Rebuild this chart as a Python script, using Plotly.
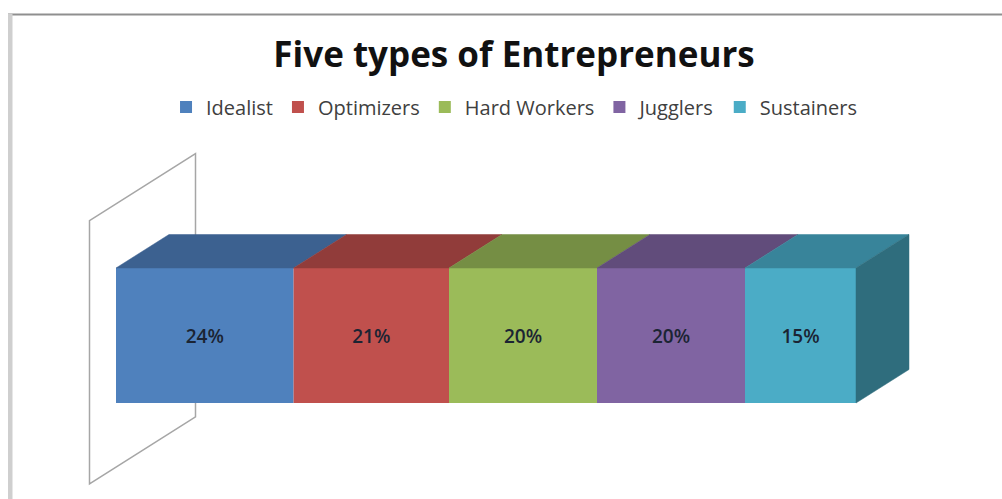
import plotly.graph_objects as go

# Share of each entrepreneur type (percent)
categories = ["Idealist", "Optimizers", "Hard Workers", "Jugglers", "Sustainers"]
shares = [24, 21, 20, 20, 15]
labels = ["24%", "21%", "20%", "20%", "15%"]

front_colors = ["#4F81BD", "#C0504D", "#9BBB59", "#8064A2", "#4BACC6"]
top_colors = ["#3C6190", "#913C3A", "#758E44", "#614C7B", "#38849A"]
side_color = "#2F6D7D"

W, H = 1002, 499

# Oblique projection: depth axis runs up and to the right.
DEPTH_DX = 106 / 7.4     # value units per unit of depth
DEPTH_DY = 67 / 135      # height units per unit of depth
BAR_DEPTH = 0.5          # bar occupies depth 0 .. 0.5 (front plane at 0)
WALL_D0, WALL_D1 = -0.25, 0.75
WALL_H0, WALL_H1 = -0.475, 1.475


def proj(v, h, d):
    return v + d * DEPTH_DX, h + d * DEPTH_DY


def poly(points):
    xs, ys = zip(*[proj(*p) for p in points])
    return list(xs) + [xs[0]], list(ys) + [ys[0]]


def svg_path(points):
    pts = [proj(*p) for p in points]
    return "M" + " L".join(f"{x:.4f},{y:.4f}" for x, y in pts) + " Z"


fig = go.Figure()

starts = []
acc = 0
for s in shares:
    starts.append(acc)
    acc += s
total = acc

# Top faces of the stacked segments
for i, s in enumerate(shares):
    a, b = starts[i], starts[i] + s
    tx, ty = poly([(a, 1, 0), (b, 1, 0), (b, 1, BAR_DEPTH), (a, 1, BAR_DEPTH)])
    fig.add_trace(go.Scatter(x=tx, y=ty, mode="lines", fill="toself",
                             fillcolor=top_colors[i],
                             line=dict(color=top_colors[i], width=0.5),
                             showlegend=False, hoverinfo="skip"))

# Right end face
sx, sy = poly([(total, 0, 0), (total, 1, 0), (total, 1, BAR_DEPTH), (total, 0, BAR_DEPTH)])
fig.add_trace(go.Scatter(x=sx, y=sy, mode="lines", fill="toself",
                         fillcolor=side_color, line=dict(color=side_color, width=0.5),
                         showlegend=False, hoverinfo="skip"))

# Front faces
for i, (c, s) in enumerate(zip(categories, shares)):
    fig.add_trace(go.Bar(
        name=c, orientation="h", y=[0.5], x=[s], base=[starts[i]], width=[1],
        marker=dict(color=front_colors[i], line=dict(width=0)),
        text=[labels[i]], textposition="inside", insidetextanchor="middle",
        textfont=dict(family="Open Sans", size=19, weight=600, color="#1B2433"),
        hoverinfo="name+text",
    ))

# Side wall at the start of the value axis, drawn beneath the bar
wall = svg_path([(0, WALL_H0, WALL_D0), (0, WALL_H1, WALL_D0),
                 (0, WALL_H1, WALL_D1), (0, WALL_H0, WALL_D1)])

# Axis ranges so that 1% = 7.4 px and one height unit = 135 px
x_min = -116 / 7.4
y_min = -(H - 403) / 135

fig.update_layout(
    width=W, height=H,
    margin=dict(l=0, r=0, t=0, b=0),
    paper_bgcolor="white", plot_bgcolor="white",
    barmode="overlay",
    xaxis=dict(range=[x_min, x_min + W / 7.4], visible=False, fixedrange=True),
    yaxis=dict(range=[y_min, y_min + H / 135], visible=False, fixedrange=True),
    title=dict(text="<b>Five types of Entrepreneurs</b>", x=0.513, xanchor="center",
               y=1 - 55 / H, yanchor="middle",
               font=dict(family="Open Sans", size=35, color="#111111")),
    legend=dict(orientation="h", x=0.513, xanchor="center", y=1 - 107 / H,
                yanchor="middle", font=dict(family="Open Sans", size=20, color="#404040"),
                traceorder="normal", bgcolor="rgba(0,0,0,0)"),
    showlegend=True,
    shapes=[
        dict(type="path", xref="x", yref="y", path=wall, layer="below",
             fillcolor="rgba(255,255,255,0)", line=dict(color="#A6A6A6", width=1.5)),
        dict(type="line", xref="paper", yref="paper", x0=8 / W, x1=1, y0=1 - 14.5 / H,
             y1=1 - 14.5 / H, line=dict(color="#8F8F8F", width=2)),
        dict(type="rect", xref="paper", yref="paper", x0=8 / W, x1=12.5 / W, y0=0,
             y1=1 - 14 / H, fillcolor="#CFCFCF", line=dict(width=0)),
    ],
)

fig.write_html("out.html")
